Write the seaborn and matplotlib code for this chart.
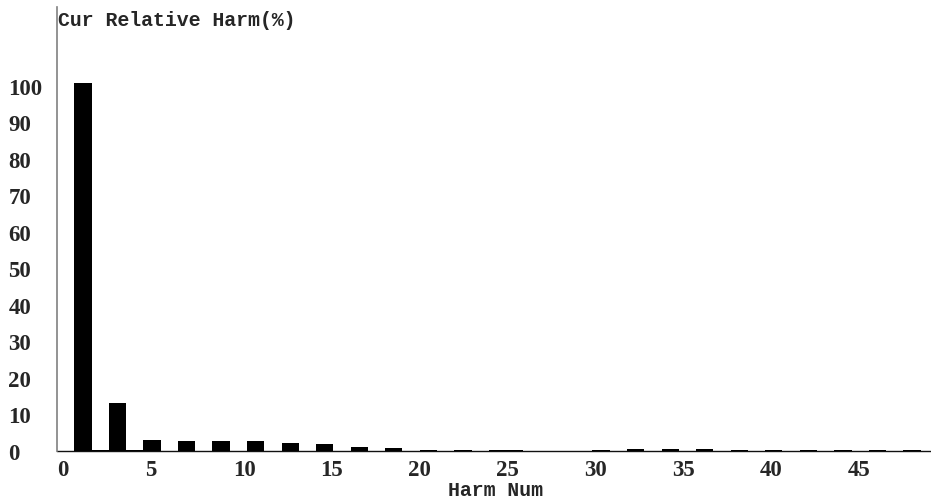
import numpy as np
import pandas as pd
import seaborn as sns
import matplotlib.pyplot as plt

# Harmonic spectrum
harm_num = list(range(1, 50))
rel_harm = [100.8, 0.4, 13.1, 0.4, 3.1, 0.0, 2.8, 0.0, 2.8, 0.0,
            2.8, 0.0, 2.3, 0.0, 2.0, 0.0, 1.2, 0.0, 0.8, 0.0,
            0.35, 0.0, 0.35, 0.0, 0.35, 0.35, 0.0, 0.0, 0.0, 0.0,
            0.35, 0.0, 0.6, 0.0, 0.6, 0.0, 0.6, 0.0, 0.35, 0.0,
            0.35, 0.0, 0.35, 0.0, 0.35, 0.0, 0.35, 0.0, 0.35]
x_tick_vals = [0, 5, 10, 15, 20, 25, 30, 35, 40, 45]
y_tick_vals = [0, 10, 20, 30, 40, 50, 60, 70, 80, 90, 100]

df = pd.DataFrame({'harm': harm_num, 'value': rel_harm})

sns.set_style('white')
plt.rcParams['font.family'] = ['Liberation Serif', 'DejaVu Sans']

fig = plt.figure(figsize=(9.31, 5.02), dpi=100)
ax = fig.add_axes([57 / 931, 50 / 502, 874 / 931, 444 / 502])

sns.barplot(data=df, x='harm', y='value', native_scale=True, width=1.0,
            color='black', saturation=1, errorbar=None, linewidth=0, ax=ax)

# the screen draws harmonic h in the slot just right of h
ax.set_xlim(-0.5, 50.1)
ax.set_ylim(0, 121.6)

# tick labels on the device run at a slightly wider pitch than the bars
label_pitch = 1.017
ax.set_xticks([-0.5 + t * label_pitch for t in x_tick_vals])
ax.set_xticklabels([str(t) for t in x_tick_vals], ha='left',
                   fontsize=16.5, fontweight='bold')
ax.set_yticks(y_tick_vals)
ax.set_yticklabels([str(t) for t in y_tick_vals], ha='left',
                   fontsize=16.5, fontweight='bold')
ax.tick_params(axis='x', length=0, pad=6)
ax.tick_params(axis='y', length=0, pad=35)

ax.set_xlabel('')
ax.set_ylabel('')
for s in ['top', 'right']:
    ax.spines[s].set_visible(False)
ax.spines['left'].set_color('#808080')
ax.spines['left'].set_linewidth(1.2)
ax.spines['bottom'].set_color('#111111')
ax.spines['bottom'].set_linewidth(1.0)
ax.spines['bottom'].set_zorder(0.5)

mono = ['Liberation Mono', 'DejaVu Sans Mono']
fig.text(58 / 931, 1 - 20 / 502, 'Cur Relative Harm(%)', family=mono,
         fontsize=14.3, fontweight='bold', ha='left', va='center')
fig.text(495 / 931, 1 - 491 / 502, 'Harm Num', family=mono,
         fontsize=14.3, fontweight='bold', ha='center', va='center')

fig.savefig('out.png', dpi=100)
